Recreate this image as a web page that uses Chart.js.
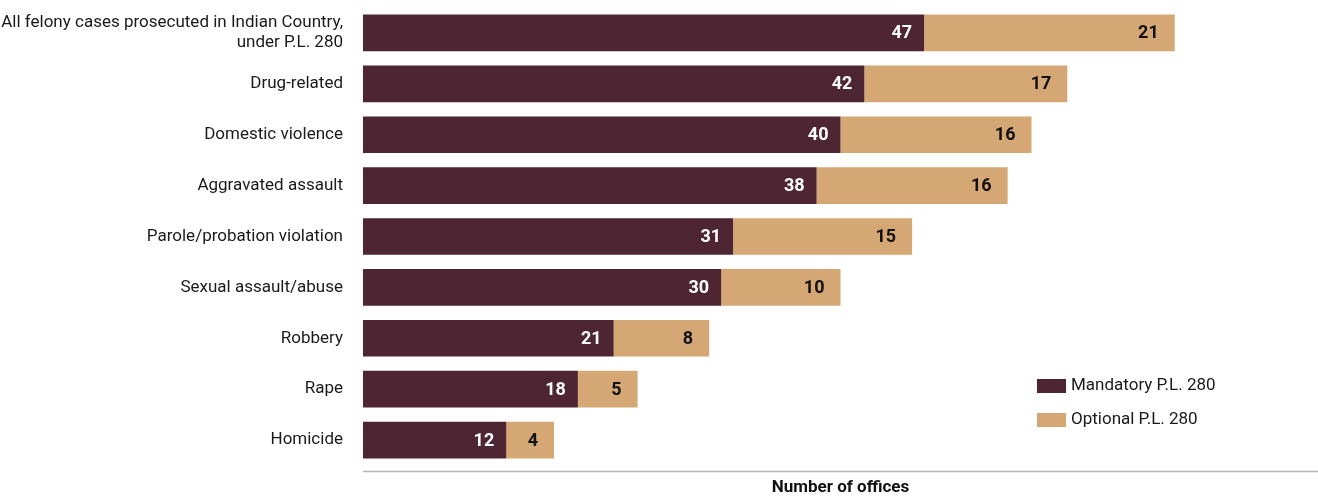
<!DOCTYPE html>
<html lang="en">
<head>
<meta charset="UTF-8">
<title>P.L. 280 offices</title>
<script src="https://cdn.jsdelivr.net/npm/chart.js"></script>
<style>
  html, body { margin: 0; padding: 0; background: #fff; }
  #wrap { width: 1318px; height: 498px; position: relative; }
</style>
</head>
<body>
<div id="wrap"><canvas id="myChart"></canvas></div>
<script>
const categories = [
  ['All felony cases prosecuted in Indian Country,', 'under P.L. 280'],
  'Drug-related',
  'Domestic violence',
  'Aggravated assault',
  'Parole/probation violation',
  'Sexual assault/abuse',
  'Robbery',
  'Rape',
  'Homicide'
];
const mandatory = [47, 42, 40, 38, 31, 30, 21, 18, 12];
const optional = [21, 17, 16, 16, 15, 10, 8, 5, 4];
const seriesNames = ['Mandatory P.L. 280', 'Optional P.L. 280'];

const FONT = 'Roboto, "Noto Sans", sans-serif';
const DARK = '#4d2533';
const TAN = '#d4a774';

// numbers inside the bars, right aligned
const barLabels = {
  id: 'barLabels',
  afterDatasetsDraw(chart) {
    const ctx = chart.ctx;
    ctx.save();
    ctx.font = 'bold 18px ' + FONT;
    ctx.textAlign = 'right';
    ctx.textBaseline = 'middle';
    chart.data.datasets.forEach((ds, i) => {
      const meta = chart.getDatasetMeta(i);
      meta.data.forEach((bar, j) => {
        ctx.fillStyle = i === 0 ? '#ffffff' : '#111111';
        ctx.fillText(String(ds.data[j]), bar.x - (i === 0 ? 12 : 16), bar.y + 1);
      });
    });
    ctx.restore();
  }
};

// bottom rule and legend block
const extras = {
  id: 'extras',
  afterDraw(chart) {
    const ctx = chart.ctx;
    const a = chart.chartArea;
    ctx.save();
    ctx.strokeStyle = '#b3b3b3';
    ctx.lineWidth = 1.5;
    ctx.beginPath();
    ctx.moveTo(a.left, a.bottom + 6);
    ctx.lineTo(a.right, a.bottom + 6);
    ctx.stroke();

    ctx.font = '17px ' + FONT;
    ctx.textAlign = 'left';
    ctx.textBaseline = 'middle';
    chart.data.datasets.forEach((ds, i) => {
      const y = 386 + i * 34;
      ctx.fillStyle = ds.backgroundColor;
      ctx.fillRect(1037, y - 7, 29, 14);
      ctx.fillStyle = '#1a1a1a';
      ctx.fillText(ds.label, 1071, y);
    });
    ctx.restore();
  }
};

new Chart(document.getElementById('myChart'), {
  type: 'bar',
  data: {
    labels: categories,
    datasets: [
      { label: seriesNames[0], data: mandatory, backgroundColor: DARK },
      { label: seriesNames[1], data: optional, backgroundColor: TAN }
    ]
  },
  options: {
    indexAxis: 'y',
    responsive: true,
    maintainAspectRatio: false,
    animation: false,
    layout: { padding: { top: 7.5, right: 0, left: 0, bottom: 0 } },
    datasets: { bar: { categoryPercentage: 1, barPercentage: 0.72 } },
    plugins: { legend: { display: false }, tooltip: { enabled: false } },
    scales: {
      x: {
        stacked: true,
        min: 0,
        max: 80,
        grid: { display: false, drawTicks: false },
        border: { display: false },
        ticks: { display: false },
        title: {
          display: true,
          text: 'Number of offices',
          color: '#111',
          font: { family: FONT, size: 17, weight: 'bold' },
          padding: { top: 0, bottom: 0 }
        },
        afterFit(s) { s.height = 32.5; s.paddingLeft = 0; s.paddingRight = 0; }
      },
      y: {
        stacked: true,
        grid: { display: false, drawTicks: false },
        border: { display: false },
        ticks: {
          color: '#1a1a1a',
          padding: 20,
          font: { family: FONT, size: 17, lineHeight: 1.15 }
        },
        afterFit(s) { s.width = 363; s.paddingTop = 0; s.paddingBottom = 0; }
      }
    }
  },
  plugins: [barLabels, extras]
});
</script>
</body>
</html>
